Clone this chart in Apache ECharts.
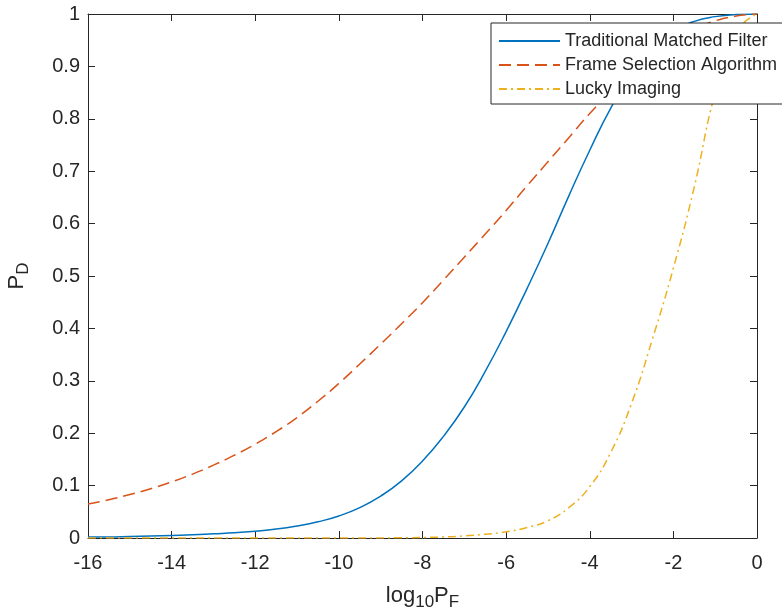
<!DOCTYPE html>
<html>
<head>
<meta charset="utf-8">
<script src="https://cdn.jsdelivr.net/npm/echarts@6/dist/echarts.min.js"></script>
<style>
  html, body { margin: 0; padding: 0; background: #fff; }
  #main { width: 782px; height: 615px; }
</style>
</head>
<body>
<div id="main"></div>
<script>
// x values: log10 of false alarm probability
var logPF = [-16, -15.5, -15, -14.5, -14, -13.5, -13, -12.5, -12, -11.5, -11, -10.5, -10,
  -9.5, -9, -8.5, -8, -7.5, -7, -6.5, -6, -5.5, -5, -4.5, -4, -3.5, -3, -2.5, -2, -1.5, -1, -0.5, 0];

var matchedFilter = [0.002, 0.002, 0.003, 0.004, 0.005, 0.006, 0.008, 0.010, 0.013, 0.017, 0.023, 0.031, 0.042,
  0.058, 0.080, 0.109, 0.147, 0.194, 0.250, 0.318, 0.394, 0.476, 0.562, 0.653, 0.740, 0.820, 0.885, 0.935, 0.968, 0.986, 0.995, 0.999, 1.0];

var frameSelection = [0.065, 0.073, 0.083, 0.094, 0.107, 0.122, 0.139, 0.158, 0.179, 0.203, 0.230, 0.261, 0.295,
  0.332, 0.370, 0.409, 0.449, 0.492, 0.536, 0.580, 0.625, 0.672, 0.718, 0.764, 0.810, 0.851, 0.888, 0.922, 0.950, 0.972, 0.987, 0.996, 1.0];

var luckyImaging = [0, 0, 0, 0, 0, 0, 0, 0, 0, 0, 0, 0, 0,
  0, 0, 0.0005, 0.001, 0.002, 0.004, 0.007, 0.012, 0.020, 0.033, 0.058, 0.098, 0.163, 0.257, 0.380, 0.515, 0.670, 0.850, 0.965, 1.0];

var seriesNames = ['Traditional Matched Filter', 'Frame Selection Algorithm', 'Lucky Imaging'];

function pairs(ys) {
  return logPF.map(function (x, i) { return [x, ys[i]]; });
}

var myChart = echarts.init(document.getElementById('main'));
var option;

var axisColor = '#262626';
var fontFam = '"Liberation Sans", Arial, Helvetica, sans-serif';

option = {
  backgroundColor: '#fff',
  animation: false,
  textStyle: { fontFamily: fontFam },
  // fixed plot box, don't let v6 shrink it for the labels
  grid: { left: 88, right: 25, top: 14, bottom: 77, outerBoundsMode: 'none', containLabel: false },
  legend: {
    orient: 'vertical',
    left: 491,
    top: 23,
    itemWidth: 61,
    itemHeight: 14,
    itemGap: 4,
    padding: [8, 6, 5, 7],
    backgroundColor: '#fff',
    borderColor: axisColor,
    borderWidth: 1,
    borderRadius: 0,
    // only the line sample, no marker
    itemStyle: { opacity: 0 },
    textStyle: { fontSize: 18, color: '#262626', fontFamily: fontFam, lineHeight: 20 },
    data: seriesNames
  },
  xAxis: [{
    type: 'value',
    min: -16, max: 0, interval: 2,
    name: 'log{s|10}P{s|F}',
    nameLocation: 'middle',
    nameGap: 42,
    nameTextStyle: {
      fontSize: 22, color: '#262626',
      rich: { s: { fontSize: 17, color: '#262626', padding: [14, 0, 0, 0] } }
    },
    axisLine: { onZero: false, lineStyle: { color: axisColor, width: 1 } },
    axisTick: { inside: true, length: 7, lineStyle: { color: axisColor } },
    axisLabel: { fontSize: 20, color: '#262626', margin: 15 },
    splitLine: { show: false }
  }, {
    type: 'value', position: 'top',
    min: -16, max: 0, interval: 2,
    axisLine: { onZero: false, lineStyle: { color: axisColor, width: 1 } },
    axisTick: { inside: true, length: 7, lineStyle: { color: axisColor } },
    axisLabel: { show: false },
    splitLine: { show: false }
  }],
  yAxis: [{
    type: 'value',
    min: 0, max: 1, interval: 0.1,
    name: 'P{s|D}',
    nameLocation: 'middle',
    nameGap: 56,
    nameRotate: 90,
    nameTextStyle: {
      fontSize: 22, color: '#262626',
      rich: { s: { fontSize: 17, color: '#262626', padding: [14, 0, 0, 0] } }
    },
    axisLine: { onZero: false, lineStyle: { color: axisColor, width: 1 } },
    axisTick: { inside: true, length: 7, lineStyle: { color: axisColor } },
    axisLabel: { fontSize: 20, color: '#262626', margin: 8 },
    splitLine: { show: false }
  }, {
    type: 'value', position: 'right',
    min: 0, max: 1, interval: 0.1,
    axisLine: { onZero: false, lineStyle: { color: axisColor, width: 1 } },
    axisTick: { inside: true, length: 7, lineStyle: { color: axisColor } },
    axisLabel: { show: false },
    splitLine: { show: false }
  }],
  series: [{
    name: seriesNames[0],
    type: 'line',
    data: pairs(matchedFilter),
    smooth: 0.5,
    symbol: 'none',
    color: '#0072BD',
    lineStyle: { width: 1.5, color: '#0072BD' }
  }, {
    name: seriesNames[1],
    type: 'line',
    data: pairs(frameSelection),
    smooth: 0.5,
    symbol: 'none',
    color: '#D95319',
    lineStyle: { width: 1.5, color: '#D95319', type: [12, 6] }
  }, {
    name: seriesNames[2],
    type: 'line',
    data: pairs(luckyImaging),
    smooth: 0.5,
    symbol: 'none',
    color: '#EDB120',
    lineStyle: { width: 1.5, color: '#EDB120', type: [8, 4, 2, 4] }
  }]
};

option && myChart.setOption(option);
</script>
</body>
</html>
